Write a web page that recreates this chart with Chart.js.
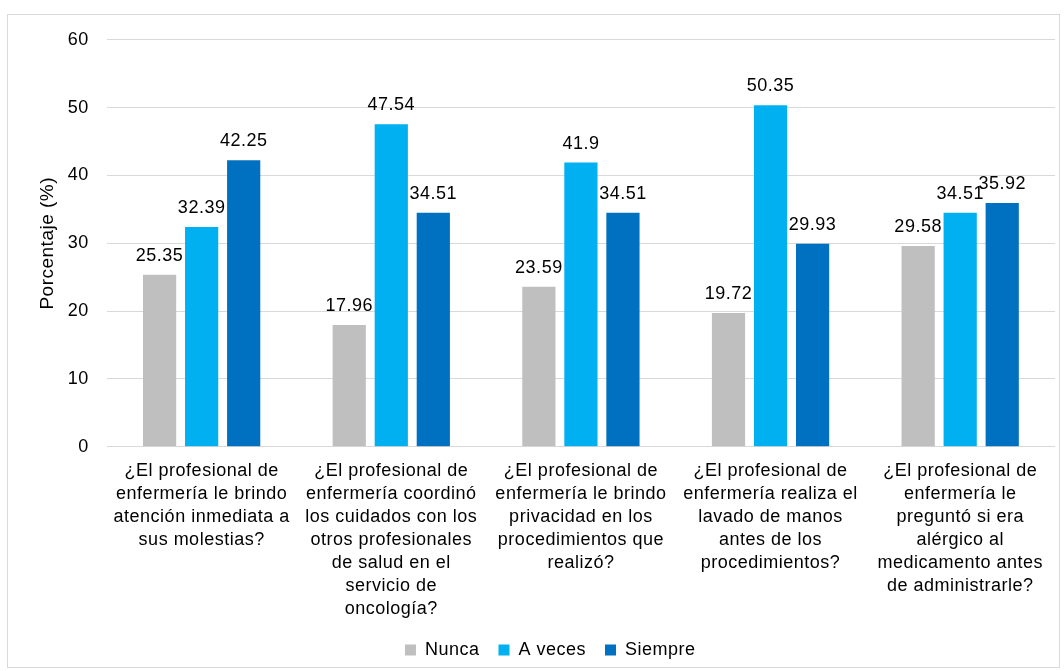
<!DOCTYPE html>
<html>
<head>
<meta charset="utf-8">
<script src="https://cdn.jsdelivr.net/npm/chart.js@4/dist/chart.umd.min.js"></script>
<style>
  body { margin: 0; background: #fff; }
  #box {
    position: absolute; left: 7px; top: 14px;
    width: 1051px; height: 652px;
    border: 1px solid #d9d9d9;
  }
</style>
</head>
<body>
<div id="box"><canvas id="chart"></canvas></div>
<script>
const categories = [
    ['¿El profesional de', 'enfermería le brindo', 'atención inmediata a', 'sus molestias?'],
    ['¿El profesional de', 'enfermería coordinó', 'los cuidados con los', 'otros profesionales', 'de salud en el', 'servicio de', 'oncología?'],
    ['¿El profesional de', 'enfermería le brindo', 'privacidad en los', 'procedimientos que', 'realizó?'],
    ['¿El profesional de', 'enfermería realiza el', 'lavado de manos', 'antes de los', 'procedimientos?'],
    ['¿El profesional de', 'enfermería le', 'preguntó si era', 'alérgico al', 'medicamento antes', 'de administrarle?']
];
const nunca = [25.35, 17.96, 23.59, 19.72, 29.58];
const aVeces = [32.39, 47.54, 41.9, 50.35, 34.51];
const siempre = [42.25, 34.51, 34.51, 29.93, 35.92];

const font = 'Liberation Sans, Arial, sans-serif';

// slightly wider text, like the original's rendering
const spacing = {
    id: 'spacing',
    beforeInit(chart) { chart.ctx.letterSpacing = '0.5px'; },
    beforeDraw(chart) { chart.ctx.letterSpacing = '0.5px'; }
};

// draws the value above each bar
const valueLabels = {
    id: 'valueLabels',
    afterDatasetsDraw(chart) {
        const ctx = chart.ctx;
        ctx.save();
        ctx.font = '18px ' + font;
        ctx.fillStyle = '#000';
        ctx.textAlign = 'center';
        ctx.textBaseline = 'alphabetic';
        chart.data.datasets.forEach((ds, i) => {
            chart.getDatasetMeta(i).data.forEach((bar, j) => {
                ctx.fillText(String(ds.data[j]), bar.x, bar.y - 14);
            });
        });
        ctx.restore();
    }
};

new Chart(document.getElementById('chart'), {
    type: 'bar',
    data: {
        labels: categories,
        datasets: [
            { label: 'Nunca', data: nunca, backgroundColor: '#bfbfbf' },
            { label: 'A veces', data: aVeces, backgroundColor: '#00b0f0' },
            { label: 'Siempre', data: siempre, backgroundColor: '#0070c0' }
        ]
    },
    options: {
        responsive: true,
        maintainAspectRatio: false,
        animation: false,
        categoryPercentage: 0.665,
        barPercentage: 0.79,
        layout: { padding: { top: 10, right: 4, bottom: -2, left: 28 } },
        plugins: {
            legend: {
                position: 'bottom',
                labels: {
                    boxWidth: 11, boxHeight: 11, color: '#000',
                    font: { family: font, size: 18 }, padding: 19
                }
            },
            tooltip: { enabled: false }
        },
        scales: {
            x: {
                grid: { display: false },
                border: { display: false },
                ticks: {
                    color: '#000', maxRotation: 0, autoSkip: false, padding: 5,
                    font: { family: font, size: 18, lineHeight: 1.28 }
                },
                afterFit(scale) { scale.height -= 4; }
            },
            y: {
                min: 0, max: 60,
                ticks: { stepSize: 10, color: '#000', padding: 18, font: { family: font, size: 18 } },
                grid: { color: '#d9d9d9', drawTicks: false },
                border: { display: false },
                title: {
                    display: true, text: 'Porcentaje (%)', color: '#000',
                    font: { family: font, size: 19 }, padding: { top: 0, bottom: 8 }
                },
                afterFit(scale) {
                    scale.width -= 16;
                    scale.paddingTop -= 4;
                }
            }
        }
    },
    plugins: [spacing, valueLabels]
});
</script>
</body>
</html>
